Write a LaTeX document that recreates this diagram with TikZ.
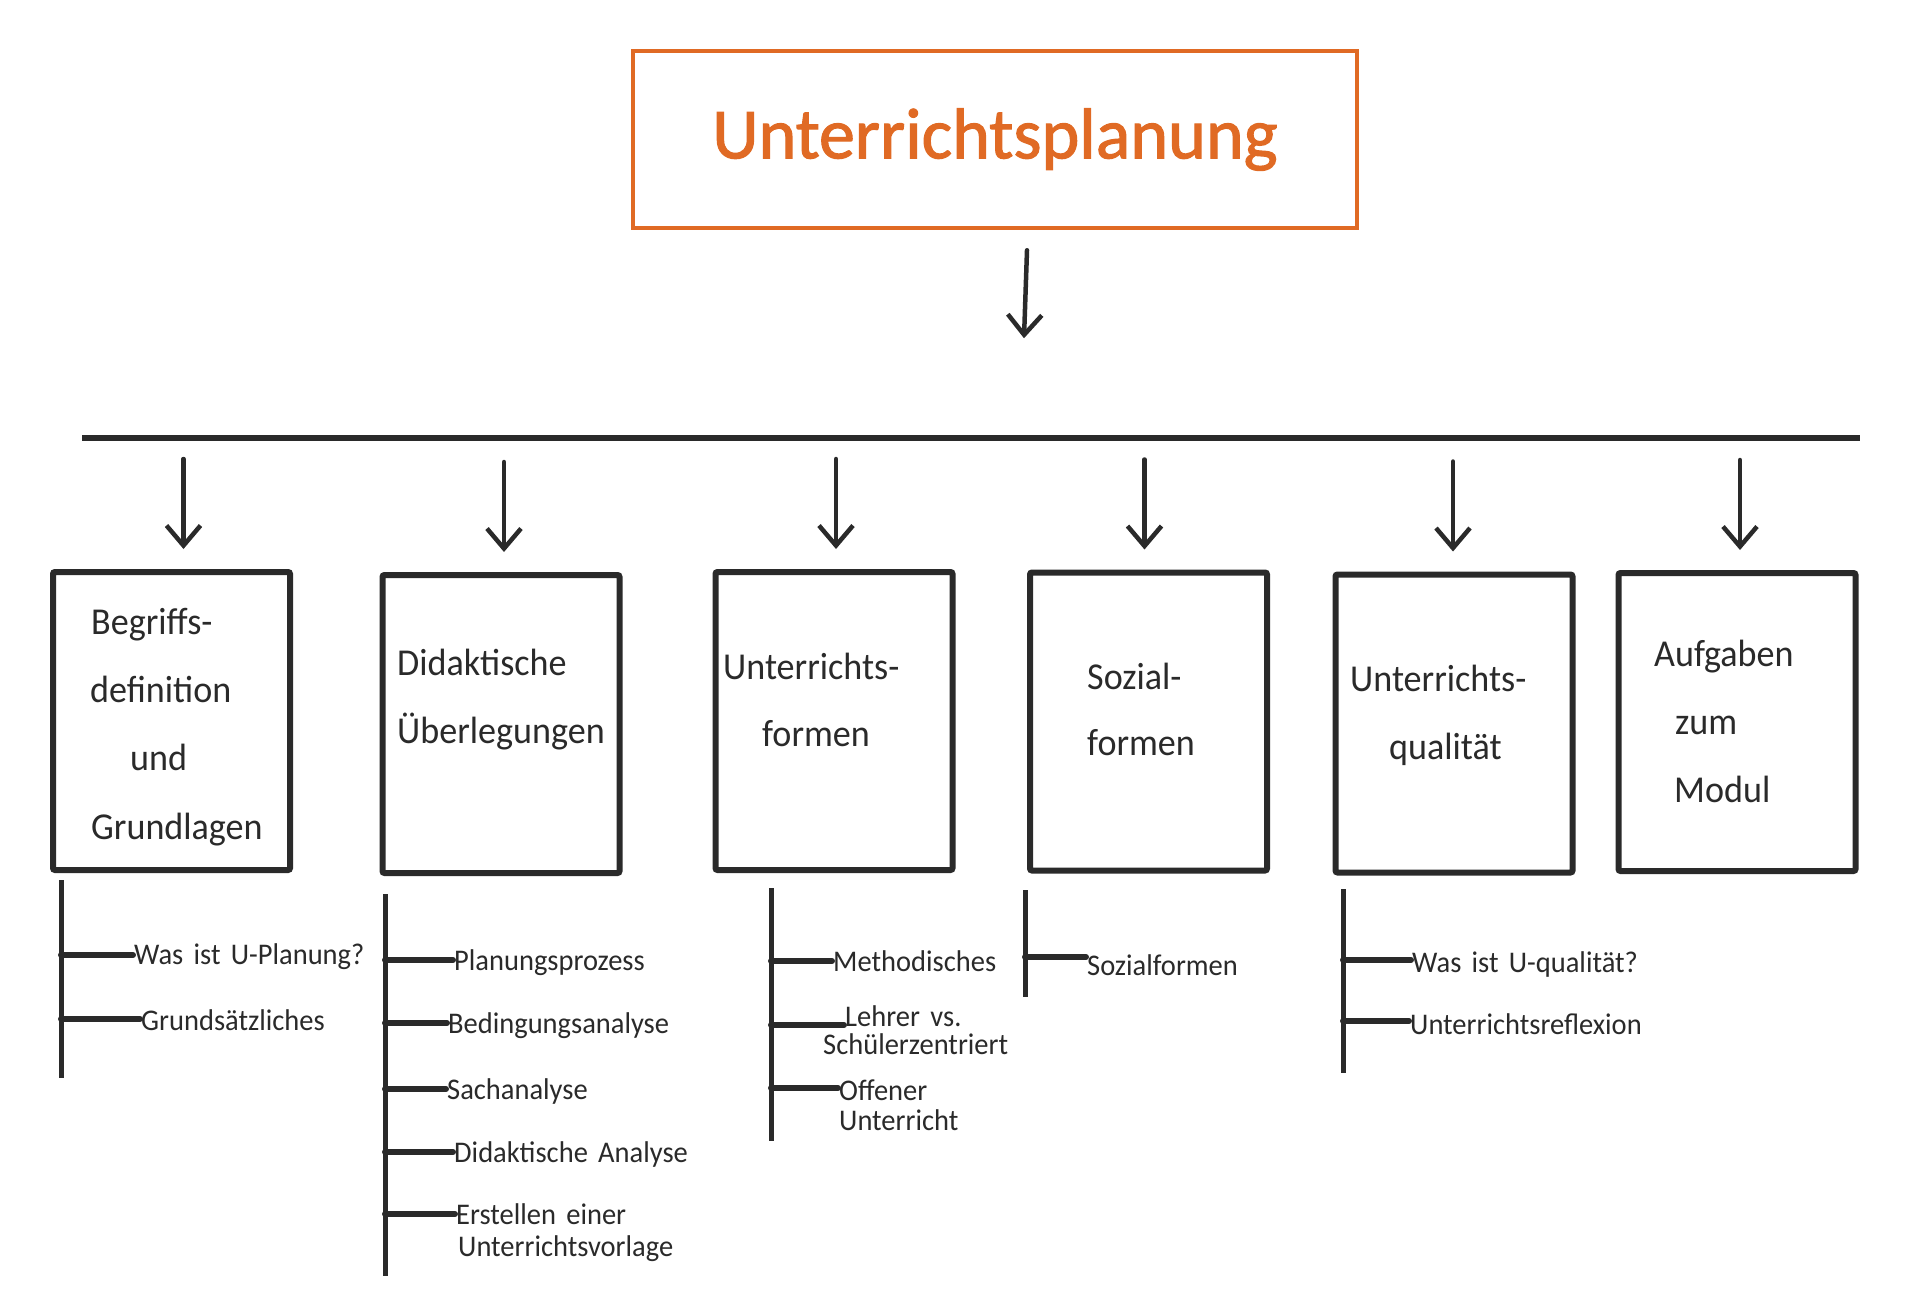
\documentclass[tikz,border=0pt]{standalone}
\usepackage{fontspec}
\setmainfont{Carlito}[WordSpace=1.6]
\newfontfamily\handfont{Carlito}[FakeStretch=0.95,WordSpace=1.6]
\newfontfamily\titlefont{Carlito}[FakeBold=1.5]
\usetikzlibrary{arrows.meta,calc}
\definecolor{ink}{RGB}{42,42,42}
\definecolor{orng}{RGB}{224,106,36}
\newcommand\mytwig[3]{%
  \path ($(#2.base west)+(-1,-#3)$) coordinate (tw);
  \draw[branch] (tw -| #1) -- (tw);}
\begin{document}
\begin{tikzpicture}[x=1pt,y=-1pt,
  box/.style={draw=ink,line width=6pt,rounded corners=2pt,minimum width=237pt,minimum height=298pt,inner sep=0pt},
  titlebox/.style={draw=orng,line width=4.5pt,minimum width=724pt,minimum height=177pt,inner sep=0pt,text=orng,font=\titlefont\fontsize{72}{80}\selectfont},
  arr/.style={draw=ink,line width=4.5pt,line cap=round,-{Straight Barb[length=20pt,width=34pt]}},
  bar/.style={draw=ink,line width=6.5pt},
  stem/.style={draw=ink,line width=5pt},
  branch/.style={draw=ink,line width=6pt,line cap=round},
  boxtext/.style={anchor=base west,inner sep=0pt,text=ink,font=\handfont\fontsize{38}{40}\selectfont},
  item/.style={anchor=base west,inner sep=0pt,text=ink,font=\handfont\fontsize{30}{32}\selectfont}]
\useasboundingbox (0,0) rectangle (1928,1306);

% title
\node[titlebox] (title) at (995,139.5) {Unterrichtsplanung};
\coordinate (hl) at (82,438);
\coordinate (hr) at (1860,438);
\draw[arr] ([xshift=32pt,yshift=-20pt]title.south) -- ([xshift=29pt,yshift=-108pt]title.south);
\draw[bar] (hl) -- (hr);

% boxes
\node[box] (b1) at (171.5,721) {};
\node[box] (b2) at (501,724) {};
\node[box] (b3) at (834,721) {};
\node[box] (b4) at (1148.5,721.5) {};
\node[box] (b5) at (1454,723.5) {};
\node[box] (b6) at (1737,722) {};

% arrows
\draw[arr] ([xshift=12pt,yshift=110pt]b1.north) -- ([xshift=12pt,yshift=20pt]b1.north);
\draw[arr] ([xshift=3pt,yshift=110pt]b2.north) -- ([xshift=3pt,yshift=20pt]b2.north);
\draw[arr] ([xshift=2pt,yshift=110pt]b3.north) -- ([xshift=2pt,yshift=20pt]b3.north);
\draw[arr] ([xshift=-4pt,yshift=110pt]b4.north) -- ([xshift=-4pt,yshift=20pt]b4.north);
\draw[arr] ([xshift=-1pt,yshift=110pt]b5.north) -- ([xshift=-1pt,yshift=20pt]b5.north);
\draw[arr] ([xshift=3pt,yshift=110pt]b6.north) -- ([xshift=3pt,yshift=20pt]b6.north);

% box texts
\node[boxtext] (t11) at (91,634) {Begriffs-};
\node[boxtext] (t12) at (90,702) {definition};
\node[boxtext] (t13) at (130,770) {und};
\node[boxtext] (t14) at (91,839) {Grundlagen};
\node[boxtext] (t21) at (397,675) {Didaktische};
\node[boxtext] (t22) at (397,743) {Überlegungen};
\node[boxtext] (t31) at (723,679) {Unterrichts-};
\node[boxtext] (t32) at (762,746) {formen};
\node[boxtext] (t41) at (1087,689) {Sozial-};
\node[boxtext] (t42) at (1087,755) {formen};
\node[boxtext] (t51) at (1350,691) {Unterrichts-};
\node[boxtext] (t52) at (1389,759) {qualität};
\node[boxtext] (t61) at (1654,666) {Aufgaben};
\node[boxtext] (t62) at (1675,734) {zum};
\node[boxtext] (t63) at (1674,802) {Modul};

% stems
\coordinate (v1t) at (61,880);   \coordinate (v1b) at (61,1078);
\coordinate (v2t) at (385,894);  \coordinate (v2b) at (385,1276);
\coordinate (v3t) at (771,888);  \coordinate (v3b) at (771,1141);
\coordinate (v4t) at (1025,890); \coordinate (v4b) at (1025,997);
\coordinate (v5t) at (1343,889); \coordinate (v5b) at (1343,1073);
\draw[stem] (v1t) -- (v1b);
\draw[stem] (v2t) -- (v2b);
\draw[stem] (v3t) -- (v3b);
\draw[stem] (v4t) -- (v4b);
\draw[stem] (v5t) -- (v5b);

% items
\node[item] (i11) at (134,964) {Was ist U-Planung?};
\node[item] (i12) at (141,1030) {Grundsätzliches};
\node[item] (i21) at (454,970) {Planungsprozess};
\node[item] (i22) at (448,1033) {Bedingungsanalyse};
\node[item] (i23) at (447,1099) {Sachanalyse};
\node[item] (i24) at (454,1162) {Didaktische Analyse};
\node[item] (i25a) at (456,1224) {Erstellen einer};
\node[item] (i25b) at (458,1256) {Unterrichtsvorlage};
\node[item] (i31) at (833,971) {Methodisches};
\node[item] (i32a) at (845,1026) {Lehrer vs.};
\node[item] (i32b) at (823,1054) {Schülerzentriert};
\node[item] (i33a) at (839,1100) {Offener};
\node[item] (i33b) at (839,1130) {Unterricht};
\node[item] (i41) at (1087,975) {Sozialformen};
\node[item] (i51) at (1412,972) {Was ist U-qualität?};
\node[item] (i52) at (1410,1034) {Unterrichtsreflexion};

% branches
\mytwig{v1t}{i11}{9}
\mytwig{v1t}{i12}{11}
\mytwig{v2t}{i21}{10}
\mytwig{v2t}{i22}{10}
\mytwig{v2t}{i23}{10}
\mytwig{v2t}{i24}{10}
\mytwig{v2t}{i25a}{10}
\mytwig{v3t}{i31}{10}
\mytwig{v3t}{i32a}{1}
\mytwig{v3t}{i33a}{12}
\mytwig{v4t}{i41}{18}
\mytwig{v5t}{i51}{12}
\mytwig{v5t}{i52}{13}
\end{tikzpicture}
\end{document}
